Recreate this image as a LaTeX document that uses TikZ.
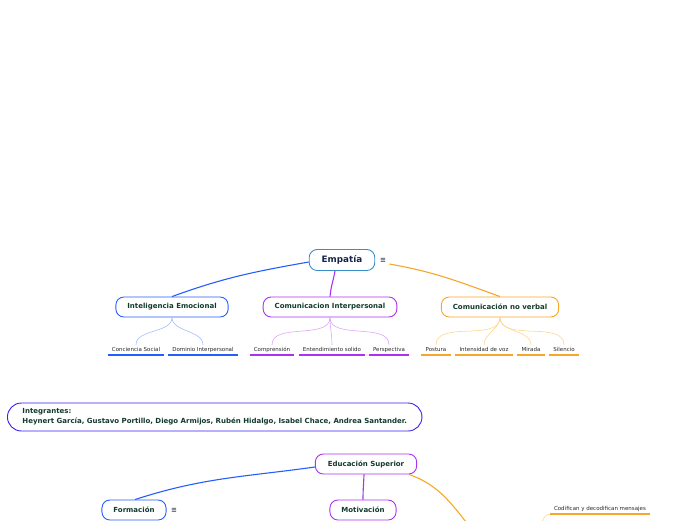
\documentclass[tikz,border=0pt]{standalone}
\usepackage{fontspec}
\setmainfont{DejaVu Sans}
\begin{document}
\begin{tikzpicture}[x=1pt, y=-1pt,
    topic/.style={draw, rounded corners=8pt, line width=0.9pt, font=\bfseries\fontsize{7}{8}\selectfont,
                  text=textgreen, inner xsep=11.5pt, minimum height=20pt},
    leaf/.style={font=\fontsize{5.5}{6.5}\selectfont, text=leafgray, inner xsep=4pt, inner ysep=1pt,
                 minimum height=11pt},
    branch/.style={line width=1.1pt},
    twig/.style={line width=0.55pt},
    menu/.style={font=\bfseries\fontsize{7}{8}\selectfont, text=menugray}]
    % Define colors
    \definecolor{textgreen}{RGB}{18, 58, 44}
    \definecolor{textnavy}{RGB}{22, 36, 76}
    \definecolor{leafgray}{RGB}{40, 40, 40}
    \definecolor{menugray}{RGB}{60, 70, 90}
    \definecolor{rootblue}{RGB}{58, 142, 200}
    \definecolor{mapblue}{RGB}{38, 94, 250}
    \definecolor{mappurple}{RGB}{170, 50, 240}
    \definecolor{maporange}{RGB}{247, 166, 40}
    \definecolor{lightmapblue}{RGB}{160, 185, 255}
    \definecolor{lightmappurple}{RGB}{218, 160, 248}
    \definecolor{lightmaporange}{RGB}{252, 212, 140}
    \definecolor{groupviolet}{RGB}{60, 30, 240}

    % Page frame
    \useasboundingbox (0,0) rectangle (696,520);

    % Root - Empatia
    \node[topic, draw=rootblue, text=textnavy, font=\bfseries\fontsize{8.8}{10}\selectfont,
          inner xsep=12.5pt, minimum height=21pt] (emp) at (342,260) {Empatía};
    \node[menu] (empmenu) at (383,260) {≡};

    % Main topics
    \node[topic, draw=mapblue] (ie) at (172,307) {Inteligencia Emocional};
    \node[topic, draw=mappurple] (ci) at (330,307) {Comunicacion Interpersonal};
    \node[topic, draw=maporange] (cnv) at (500,307) {Comunicación no verbal};

    \draw[branch, mapblue] (emp.west) ++(0,2) to[out=190, in=20] (ie.north);
    \draw[branch, mappurple] (emp.south) ++(-7,0) to[out=-100, in=85] (ci.north);
    \draw[branch, maporange] (empmenu.east) ++(0,4) to[out=-10, in=160] (cnv.north);

    % Leaves
    \node[leaf] (cs) at (136,349.5) {Conciencia Social};
    \node[leaf] (di) at (203,349.5) {Dominio Interpersonal};
    \node[leaf] (com) at (272,349.5) {Comprensión};
    \node[leaf] (es) at (332,349.5) {Entendimiento solido};
    \node[leaf] (per) at (389,349.5) {Perspectiva};
    \node[leaf] (pos) at (436,349.5) {Postura};
    \node[leaf] (iv) at (484,349.5) {Intensidad de voz};
    \node[leaf] (mir) at (531,349.5) {Mirada};
    \node[leaf] (sil) at (564,349.5) {Silencio};

    \foreach \p/\l/\clr in {ie/cs/lightmapblue, ie/di/lightmapblue,
                          ci/com/lightmappurple, ci/es/lightmappurple, ci/per/lightmappurple,
                          cnv/pos/lightmaporange, cnv/iv/lightmaporange,
                          cnv/mir/lightmaporange, cnv/sil/lightmaporange}
        \draw[twig, \clr] (\p.south) to[out=-90, in=90, looseness=0.9] ([yshift=-1pt]\l.north);

    \foreach \l/\clr in {cs/mapblue, di/mapblue, com/mappurple, es/mappurple, per/mappurple,
                       pos/maporange, iv/maporange, mir/maporange, sil/maporange}
        \draw[\clr, line width=1.6pt] (\l.south west) -- (\l.south east);

    % Integrantes
    \node[draw=groupviolet, line width=0.9pt, rounded corners=14pt, anchor=west, align=left,
          font=\bfseries\fontsize{7}{10}\selectfont, text=textgreen, inner xsep=15pt,
          minimum height=28pt] (grupo) at (7,417)
        {Integrantes:\\Heynert García, Gustavo Portillo, Diego Armijos, Rubén Hidalgo, Isabel Chace, Andrea Santander.};

    % Second map - Educacion Superior
    \node[topic, draw=mappurple, inner xsep=12.5pt] (edu) at (366,464) {Educación Superior};
    \node[topic, draw=mapblue] (form) at (134,510) {Formación};
    \node[menu] (formmenu) at (174,510) {≡};
    \node[topic, draw=mappurple] (mot) at (363,510) {Motivación};
    \coordinate (offpage) at (466,522);
    \coordinate (offleaf) at (542,522);

    \draw[branch, mapblue] (edu.west) ++(0,3) to[out=188, in=18] ([xshift=1pt]form.north);
    \draw[branch, mappurple] (edu.south) ++(-2,0) to[out=-92, in=90] (mot.north);
    \draw[branch, maporange] (edu.south east) ++(-8,0) to[out=-20, in=128] (offpage);

    \node[leaf] (cod) at (600,508.5) {Codifican y decodifican mensajes};
    \draw[maporange, line width=1.6pt] (cod.south west) -- (cod.south east);
    \draw[twig, lightmaporange] (offleaf) to[out=70, in=180] (cod.south west);

\end{tikzpicture}
\end{document}
